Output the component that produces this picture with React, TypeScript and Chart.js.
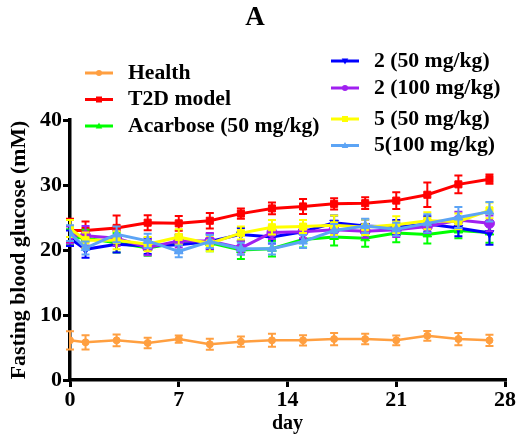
import React, { useEffect, useRef } from "react";
import { Chart, registerables } from "chart.js";

Chart.register(...registerables);

const FONT = "'Liberation Serif', 'Times New Roman', serif";

const days = [0, 1, 3, 5, 7, 9, 11, 13, 15, 17, 19, 21, 23, 25, 27];
const xTicks = [0, 7, 14, 21, 28];
const yTicks = [0, 10, 20, 30, 40];

const health = [6.1, 5.8, 6.1, 5.7, 6.3, 5.5, 5.9, 6.1, 6.1, 6.3, 6.3, 6.1, 6.8, 6.3, 6.1];
const healthErr = [1.4, 1.1, 0.9, 0.8, 0.55, 0.85, 0.8, 1.0, 0.8, 0.95, 0.8, 0.75, 0.75, 0.95, 0.85];

const t2d = [23.0, 23.0, 23.4, 24.2, 24.1, 24.5, 25.6, 26.4, 26.7, 27.1, 27.2, 27.6, 28.5, 30.1, 30.9];
const t2dErr = [1.8, 1.4, 1.9, 1.15, 1.15, 1.2, 0.8, 0.9, 1.15, 0.85, 0.9, 1.3, 1.9, 1.35, 0.7];

const acarbose = [22.0, 21.8, 21.1, 20.3, 21.1, 21.1, 20.0, 20.2, 21.6, 22.0, 21.8, 22.6, 22.4, 23.0, 22.7];
const acarboseErr = [1.2, 1.3, 1.5, 1.2, 1.2, 1.3, 1.4, 1.2, 1.2, 1.3, 1.3, 1.4, 1.4, 1.2, 1.6];

const c2Low = [21.8, 20.1, 20.9, 20.6, 20.8, 21.3, 22.4, 22.0, 22.8, 24.2, 23.7, 23.5, 24.0, 23.4, 22.6];
const c2LowErr = [1.2, 1.3, 1.3, 1.2, 1.2, 1.2, 1.0, 1.0, 1.1, 1.1, 1.0, 1.1, 1.2, 1.3, 1.8];

const c2High = [22.3, 22.2, 21.8, 20.4, 21.4, 21.4, 20.3, 22.7, 22.8, 23.1, 22.9, 23.1, 23.6, 24.6, 24.1];
const c2HighErr = [1.3, 1.5, 1.2, 1.2, 1.0, 1.2, 1.0, 1.0, 1.0, 1.0, 1.0, 1.1, 1.0, 1.3, 1.2];

const c5Low = [23.3, 21.5, 21.5, 20.9, 22.0, 21.0, 22.6, 23.5, 23.6, 23.8, 23.5, 23.9, 24.5, 24.4, 26.1];
const c5LowErr = [1.3, 1.2, 1.4, 1.1, 1.2, 1.2, 1.0, 1.1, 1.0, 1.5, 1.2, 1.3, 1.3, 1.2, 1.2];

const c5High = [22.6, 20.3, 22.4, 21.4, 19.8, 21.3, 20.2, 20.2, 21.3, 23.0, 23.7, 23.2, 24.1, 25.0, 25.9];
const c5HighErr = [1.2, 1.0, 1.2, 1.1, 0.9, 1.0, 0.9, 0.9, 1.0, 1.0, 1.1, 1.0, 1.4, 1.6, 1.5];

const labels = [
  "Health",
  "T2D model",
  "Acarbose (50 mg/kg)",
  "2 (50 mg/kg)",
  "2 (100 mg/kg)",
  "5 (50 mg/kg)",
  "5(100 mg/kg)",
];
const colors = ["#FF9F40", "#FF0000", "#00FF00", "#0000FF", "#A020F0", "#FFFF00", "#5CA4F5"];
const values = [health, t2d, acarbose, c2Low, c2High, c5Low, c5High];
const errors = [healthErr, t2dErr, acarboseErr, c2LowErr, c2HighErr, c5LowErr, c5HighErr];
const styles = ["circle", "rect", "triangle", "triangle", "circle", "rect", "triangle"];
const rotations = [0, 0, 0, 180, 0, 0, 0];

// legend layout (column, row position)
const legendPos = [
  { x: 85, y: 73 },
  { x: 85, y: 99.5 },
  { x: 85, y: 126 },
  { x: 331, y: 61 },
  { x: 331, y: 88 },
  { x: 331, y: 119 },
  { x: 331, y: 145.5 },
];

function drawMarker(ctx: CanvasRenderingContext2D, style: string, rot: number, x: number, y: number, r: number) {
  ctx.beginPath();
  if (style === "circle") {
    ctx.arc(x, y, r, 0, Math.PI * 2);
  } else if (style === "rect") {
    ctx.rect(x - r, y - r, 2 * r, 2 * r);
  } else {
    const s = rot === 180 ? -1 : 1;
    ctx.moveTo(x, y - s * r * 1.2);
    ctx.lineTo(x - r * 1.1, y + s * r * 0.8);
    ctx.lineTo(x + r * 1.1, y + s * r * 0.8);
    ctx.closePath();
  }
  ctx.fill();
}

const errorBarPlugin = {
  id: "errorBars",
  beforeDatasetDraw(chart: any, args: any) {
    const ds = chart.data.datasets[args.index];
    const errs: number[] = ds.errors;
    if (!errs) return;
    const yScale = chart.scales.y;
    const ctx: CanvasRenderingContext2D = chart.ctx;
    ctx.save();
    ctx.strokeStyle = ds.borderColor;
    ctx.lineWidth = 2;
    args.meta.data.forEach((pt: any, i: number) => {
      const v = ds.data[i].y;
      const e = errs[i];
      const px = pt.x;
      const top = yScale.getPixelForValue(v + e);
      const bot = yScale.getPixelForValue(v - e);
      ctx.beginPath();
      ctx.moveTo(px, top);
      ctx.lineTo(px, bot);
      ctx.moveTo(px - 4, top);
      ctx.lineTo(px + 4, top);
      ctx.moveTo(px - 4, bot);
      ctx.lineTo(px + 4, bot);
      ctx.stroke();
    });
    ctx.restore();
  },
};

const decorPlugin = {
  id: "decor",
  afterDraw(chart: any) {
    const ctx: CanvasRenderingContext2D = chart.ctx;
    ctx.save();
    ctx.fillStyle = "#000";
    ctx.font = `bold 27px ${FONT}`;
    ctx.textAlign = "center";
    ctx.textBaseline = "middle";
    ctx.fillText("A", 255, 18);

    labels.forEach((lab, i) => {
      const p = legendPos[i];
      ctx.strokeStyle = colors[i];
      ctx.fillStyle = colors[i];
      ctx.lineWidth = 3;
      ctx.beginPath();
      ctx.moveTo(p.x, p.y);
      ctx.lineTo(p.x + 28, p.y);
      ctx.stroke();
      drawMarker(ctx, styles[i], rotations[i], p.x + 14, p.y, 3);
      ctx.fillStyle = "#000";
      ctx.font = `bold 21.7px ${FONT}`;
      ctx.textAlign = "left";
      ctx.textBaseline = "middle";
      ctx.fillText(lab, p.x + 43, p.y);
    });
    ctx.restore();
  },
};

export default function App() {
  const ref = useRef<HTMLCanvasElement | null>(null);

  useEffect(() => {
    if (!ref.current) return;
    const datasets = labels.map((lab, i) => ({
      label: lab,
      data: days.map((d, j) => ({ x: d, y: values[i][j] })),
      errors: errors[i],
      borderColor: colors[i],
      backgroundColor: colors[i],
      borderWidth: i === 0 ? 2.5 : 3,
      pointStyle: styles[i],
      pointRotation: rotations[i],
      pointRadius: i === 0 ? 3.5 : 5,
      pointBorderWidth: 1,
      tension: 0,
      order: labels.length - i,
    }));

    const chart = new Chart(ref.current, {
      type: "line",
      data: { datasets: datasets as any },
      plugins: [errorBarPlugin, decorPlugin],
      options: {
        animation: false,
        responsive: false,
        maintainAspectRatio: false,
        layout: { padding: { top: 120, left: 6, right: 11, bottom: 0 } },
        plugins: {
          legend: { display: false },
          title: { display: false },
          tooltip: { enabled: false },
        },
        scales: {
          x: {
            type: "linear",
            min: 0,
            max: 28,
            afterFit: (s: any) => {
              s.height = 56;
            },
            afterBuildTicks: (s: any) => {
              s.ticks = xTicks.map((v) => ({ value: v }));
            },
            ticks: {
              color: "#000",
              padding: 0,
              maxRotation: 0,
              font: { family: FONT, size: 22, weight: "bold" },
            },
            grid: {
              drawOnChartArea: false,
              drawTicks: true,
              tickLength: 7,
              lineWidth: 3,
              color: "#000",
            },
            border: { display: true, width: 3.5, color: "#000" },
            title: {
              display: true,
              text: "day",
              color: "#000",
              padding: { top: 0, bottom: 0 },
              font: { family: FONT, size: 20, weight: "bold" },
            },
          },
          y: {
            type: "linear",
            min: 0,
            max: 40,
            afterFit: (s: any) => {
              s.width = 64;
            },
            afterBuildTicks: (s: any) => {
              s.ticks = yTicks.map((v) => ({ value: v }));
            },
            ticks: {
              color: "#000",
              padding: 1,
              font: { family: FONT, size: 22, weight: "bold" },
            },
            grid: {
              drawOnChartArea: false,
              drawTicks: true,
              tickLength: 7,
              lineWidth: 3,
              color: "#000",
            },
            border: { display: true, width: 3.5, color: "#000" },
            title: {
              display: true,
              text: "Fasting blood glucose (mM)",
              color: "#000",
              padding: { top: 0, bottom: 0 },
              font: { family: FONT, size: 21.8, weight: "bold" },
            },
          },
        },
      } as any,
    });
    return () => chart.destroy();
  }, []);

  return (
    <div style={{ position: "absolute", left: 0, top: 0, width: 516, height: 436, background: "#fff" }}>
      <canvas ref={ref} width={516} height={436} style={{ width: 516, height: 436 }} />
    </div>
  );
}
